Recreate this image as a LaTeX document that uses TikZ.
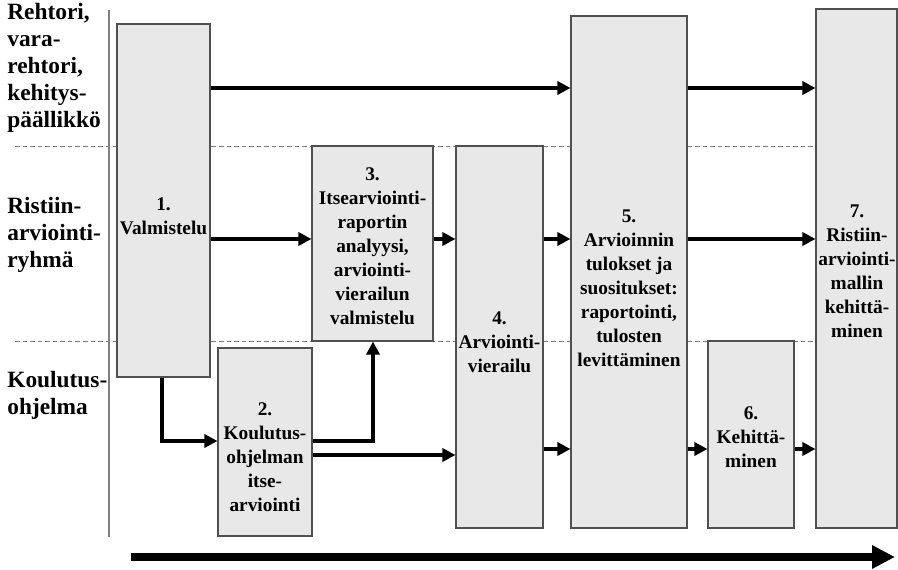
\documentclass[tikz,border=0pt]{standalone}
\usepackage{fontspec}
\setmainfont{Liberation Serif}
\usetikzlibrary{arrows.meta,fit}
\definecolor{boxfill}{HTML}{E8E8E8}
\definecolor{boxline}{HTML}{505050}
\definecolor{dashgray}{HTML}{7A7A7A}
\begin{document}
\begin{tikzpicture}[x=0.02cm,y=-0.02cm,
  box/.style={draw=boxline, fill=boxfill, line width=0.6pt, inner sep=0pt},
  boxtext/.style={font=\fontsize{11}{13.7}\selectfont\bfseries, align=center, inner sep=0pt},
  lanetext/.style={font=\fontsize{13.3}{15.4}\selectfont\bfseries, align=left, inner sep=0pt, anchor=west},
  arr/.style={line width=2pt, -{Triangle[length=7.5pt,width=7.5pt]}},
  lane/.style={dashgray, line width=0.5pt, dash pattern=on 2.6pt off 1.7pt},
  axisline/.style={draw=gray, line width=0.6pt}]
\useasboundingbox (0,0) rectangle (898,570);
% swimlane separators
\coordinate (dl1) at (15,146); \coordinate (dr1) at (898,146);
\coordinate (dl2) at (15,341); \coordinate (dr2) at (898,341);
\draw[lane] (dl1) -- (dr1);
\draw[lane] (dl2) -- (dr2);
\coordinate (vt) at (109,10); \coordinate (vb) at (109,537);
\draw[axisline] (vt) -- (vb);
% lane labels
\node[lanetext] (l1) at (7,68) {Rehtori,\\vara-\\rehtori,\\kehitys-\\päällikkö};
\node[lanetext] (l2) at (7,235) {Ristiin-\\arviointi-\\ryhmä};
\node[lanetext] (l3) at (7,395) {Koulutus-\\ohjelma};
% boxes
\node[box, fit={(117,24) (210,377)}] (b1) {};
\node[box, fit={(218,348) (312,536)}] (b2) {};
\node[box, fit={(312,146) (433,341)}] (b3) {};
\node[box, fit={(456,146) (543,528)}] (b4) {};
\node[box, fit={(571,16) (687,528)}] (b5) {};
\node[box, fit={(708,341) (794,528)}] (b6) {};
\node[box, fit={(816,9) (897,528)}] (b7) {};
% box texts
\node[boxtext] (t1) at (163.5,216) {1.\\Valmistelu};
\node[boxtext] (t2) at (265,457) {2.\\Koulutus-\\ohjelman\\itse-\\arviointi};
\node[boxtext] (t3) at (372.5,246) {3.\\Itsearviointi-\\raportin\\analyysi,\\arviointi-\\vierailun\\valmistelu};
\node[boxtext] (t4) at (499.5,342) {4.\\Arviointi-\\vierailu};
\node[boxtext] (t5) at (629,288) {5.\\Arvioinnin\\tulokset ja\\suositukset:\\raportointi,\\tulosten\\levittäminen};
\node[boxtext] (t6) at (751,437) {6.\\Kehittä-\\minen};
\node[boxtext] (t7) at (857,271) {7.\\Ristiin-\\arviointi-\\mallin\\kehittä-\\minen};
% row levels
\coordinate (rA) at (0,88);
\coordinate (rB) at (0,239);
\coordinate (rC) at (0,449);
\coordinate (rD) at (0,455);
\coordinate (rE) at (0,441);
\coordinate (x1) at (162,0);
\coordinate (x2) at (373,0);
% connectors
\draw[arr] (b1.east |- rA) -- (b5.west |- rA);
\draw[arr] (b5.east |- rA) -- (b7.west |- rA);
\draw[arr] (b1.east |- rB) -- (b3.west |- rB);
\draw[arr] (b3.east |- rB) -- (b4.west |- rB);
\draw[arr] (b4.east |- rB) -- (b5.west |- rB);
\draw[arr] (b5.east |- rB) -- (b7.west |- rB);
\draw[arr] (b4.east |- rC) -- (b5.west |- rC);
\draw[arr] (b5.east |- rC) -- (b6.west |- rC);
\draw[arr] (b6.east |- rC) -- (b7.west |- rC);
\draw[arr] (b2.east |- rD) -- (b4.west |- rD);
\draw[arr] (b1.south -| x1) |- (b2.west |- rE);
\draw[arr] (b2.east |- rE) -| (b3.south -| x2);
% time arrow
\coordinate (ts) at (131,557); \coordinate (te) at (895,557);
\draw[line width=4.5pt, -{Triangle[length=13pt,width=12.5pt]}] (ts) -- (te);
\end{tikzpicture}
\end{document}
